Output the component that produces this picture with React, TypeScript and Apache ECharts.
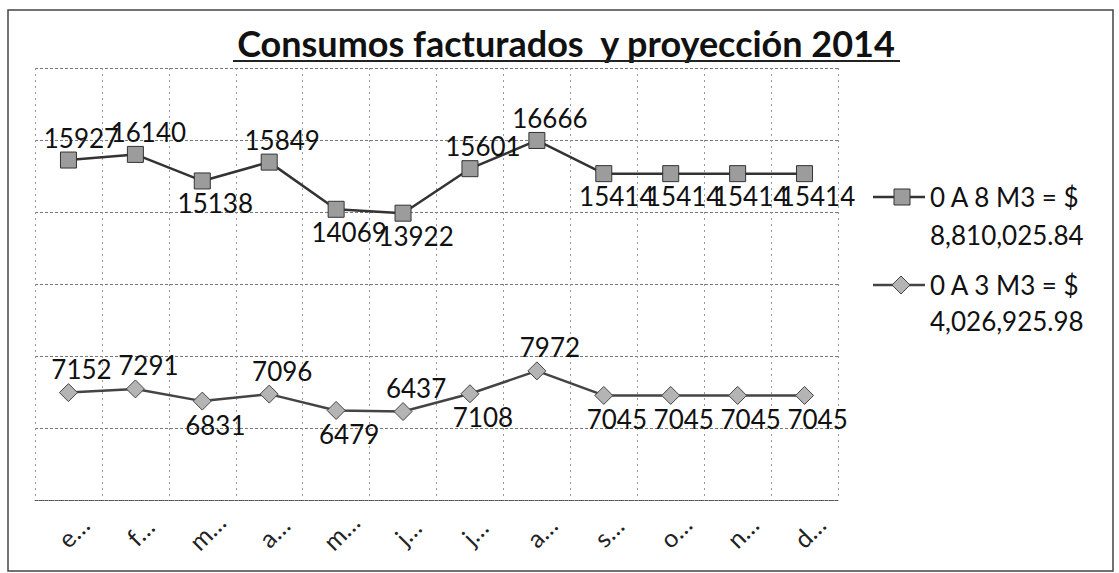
import React, { useEffect, useRef } from "react";
import * as echarts from "echarts";

const chartTitle = "Consumos facturados  y proyección 2014";
const months = ["enero", "febrero", "marzo", "abril", "mayo", "junio", "julio", "agosto", "septiembre", "octubre", "noviembre", "diciembre"];
const consumo8 = [15927, 16140, 15138, 15849, 14069, 13922, 15601, 16666, 15414, 15414, 15414, 15414];
const consumo3 = [7152, 7291, 6831, 7096, 6479, 6437, 7108, 7972, 7045, 7045, 7045, 7045];
const labelSide8 = ["top", "top", "bottom", "top", "bottom", "bottom", "top", "top", "bottom", "bottom", "bottom", "bottom"];
const labelSide3 = ["top", "top", "bottom", "top", "bottom", "top", "bottom", "top", "bottom", "bottom", "bottom", "bottom"];
const seriesNames = ["0 A 8 M3 = $", "0 A 3 M3 = $"];
const seriesTotals = ["8,810,025.84", "4,026,925.98"];

const FONT = "Lato";

export default function App() {
  const ref = useRef<HTMLDivElement>(null);

  useEffect(() => {
    if (!ref.current) return;
    const chart = echarts.init(ref.current, undefined, { renderer: "svg" });

    const labelBase = {
      show: true,
      fontFamily: FONT,
      fontSize: 26,
      color: "#111",
      distance: 1,
      offset: [13, 0],
    };

    const option = {
      animation: false,
      backgroundColor: "#fff",
      grid: { left: 35, top: 68, width: 803, height: 432 },
      xAxis: [
        {
          type: "category",
          data: months,
          boundaryGap: true,
          axisLine: { show: true, lineStyle: { color: "#555", type: "dotted", width: 1 } },
          axisTick: { show: false },
          axisLabel: {
            rotate: 45,
            align: "center",
            verticalAlign: "middle",
            margin: 36,
            padding: [13, 0, 0, 13],
            interval: 0,
            formatter: (v: string) => v.charAt(0) + "…",
            fontFamily: FONT,
            fontSize: 25,
            color: "#222",
          },
          splitLine: { show: true, lineStyle: { type: [2, 4], color: "#999", width: 1 } },
        },
      ],
      yAxis: [
        { type: "value", min: 3100, max: 19400, show: false },
        {
          type: "value",
          min: 0,
          max: 6,
          interval: 1,
          axisLine: { show: false },
          axisTick: { show: false },
          axisLabel: { show: false },
          splitLine: { show: true, lineStyle: { type: [3, 2], color: "#777", width: 1 } },
        },
      ],
      series: [
        {
          name: seriesNames[0] + " " + seriesTotals[0],
          type: "line",
          yAxisIndex: 0,
          data: consumo8.map((v, i) => ({ value: v, label: { position: labelSide8[i] } })),
          symbol: "rect",
          symbolSize: 16,
          lineStyle: { color: "#333", width: 2.5 },
          itemStyle: { color: "#9c9c9c", borderColor: "#333", borderWidth: 1 },
          label: labelBase,
          z: 3,
        },
        {
          name: seriesNames[1] + " " + seriesTotals[1],
          type: "line",
          yAxisIndex: 0,
          data: consumo3.map((v, i) => ({ value: v, label: { position: labelSide3[i] } })),
          symbol: "diamond",
          symbolSize: 18,
          lineStyle: { color: "#444", width: 2.5 },
          itemStyle: { color: "#b4b4b4", borderColor: "#444", borderWidth: 1 },
          label: labelBase,
          z: 3,
        },
      ],
      graphic: [
        {
          type: "rect",
          shape: { x: 8, y: 10, width: 1105, height: 561 },
          style: { fill: "none", stroke: "#444", lineWidth: 1.5 },
          silent: true,
        },
        {
          type: "text",
          x: 566,
          y: 43,
          style: {
            text: chartTitle,
            fontFamily: FONT,
            fontWeight: "bold",
            fontSize: 36,
            fill: "#111",
            align: "center",
            verticalAlign: "middle",
          },
        },
        {
          type: "line",
          shape: { x1: 233, y1: 61, x2: 900, y2: 61 },
          style: { stroke: "#222", lineWidth: 2 },
        },
        {
          type: "line",
          shape: { x1: 873, y1: 197, x2: 925, y2: 197 },
          style: { stroke: "#333", lineWidth: 2.5 },
        },
        {
          type: "rect",
          shape: { x: 894, y: 189, width: 16, height: 16 },
          style: { fill: "#9c9c9c", stroke: "#333", lineWidth: 1 },
        },
        {
          type: "text",
          x: 930,
          y: 197,
          style: { text: seriesNames[0], fontFamily: FONT, fontSize: 26, fill: "#111", verticalAlign: "middle" },
        },
        {
          type: "text",
          x: 930,
          y: 235,
          style: { text: seriesTotals[0], fontFamily: FONT, fontSize: 26, fill: "#111", verticalAlign: "middle" },
        },
        {
          type: "line",
          shape: { x1: 873, y1: 285, x2: 925, y2: 285 },
          style: { stroke: "#444", lineWidth: 2.5 },
        },
        {
          type: "polygon",
          shape: { points: [[901, 276], [910, 285], [901, 294], [892, 285]] },
          style: { fill: "#b4b4b4", stroke: "#444", lineWidth: 1 },
        },
        {
          type: "text",
          x: 930,
          y: 285,
          style: { text: seriesNames[1], fontFamily: FONT, fontSize: 26, fill: "#111", verticalAlign: "middle" },
        },
        {
          type: "text",
          x: 930,
          y: 321,
          style: { text: seriesTotals[1], fontFamily: FONT, fontSize: 26, fill: "#111", verticalAlign: "middle" },
        },
      ],
    };

    chart.setOption(option as any);
    return () => chart.dispose();
  }, []);

  return (
    <div
      ref={ref}
      style={{ position: "fixed", left: 0, top: 0, width: 1119, height: 573, background: "#fff" }}
    />
  );
}
